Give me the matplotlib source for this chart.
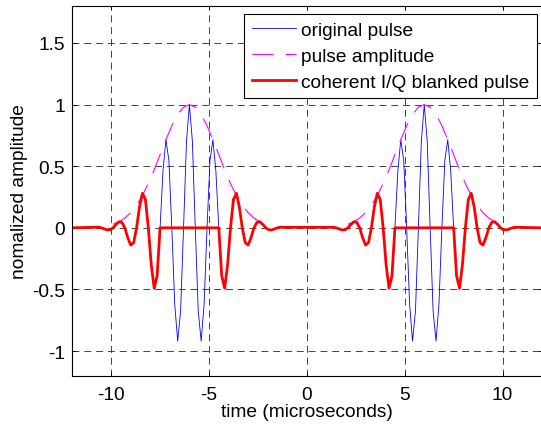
import matplotlib
matplotlib.use('Agg')
import matplotlib.pyplot as plt
import numpy as np

plt.rcParams['font.family'] = ['Liberation Sans', 'DejaVu Sans']
plt.rcParams['lines.scale_dashes'] = False
plt.rcParams['axes.unicode_minus'] = False

# pulse centres (microseconds)
pulse_centers = [-6.0, 6.0]

# sample instants relative to each pulse centre, every 0.15 us
pulse_offsets = np.arange(-32, 33) * 0.15

# original pulse (same shape for both pulses)
pulse_values = [0.004, 0.005, 0.000, -0.009, -0.017, -0.016, 0.000, 0.027,
                0.049, 0.044, 0.000, -0.080, -0.140, -0.120, 0.000, 0.170,
                0.280, 0.230, 0.000, -0.300, -0.490, -0.390, 0.000, 0.463,
                0.715, 0.547, 0.000, -0.620, -0.920, -0.675, 0.000, 0.703,
                1.000,
                0.703, 0.000, -0.675, -0.920, -0.620, 0.000, 0.547, 0.715,
                0.463, 0.000, -0.390, -0.490, -0.300, 0.000, 0.230, 0.280,
                0.170, 0.000, -0.120, -0.140, -0.080, 0.000, 0.044, 0.049,
                0.027, 0.000, -0.016, -0.017, -0.009, 0.000, 0.005, 0.004]

# same pulse with the centre blanked
blanked_values = [0.004, 0.005, 0.000, -0.009, -0.017, -0.016, 0.000, 0.027,
                  0.049, 0.044, 0.000, -0.080, -0.140, -0.120, 0.000, 0.170,
                  0.280, 0.230, 0.000, -0.300, -0.490, -0.390,
                  0, 0, 0, 0, 0, 0, 0, 0, 0, 0, 0, 0, 0, 0, 0, 0, 0, 0, 0, 0, 0,
                  -0.390, -0.490, -0.300, 0.000, 0.230, 0.280,
                  0.170, 0.000, -0.120, -0.140, -0.080, 0.000, 0.044, 0.049,
                  0.027, 0.000, -0.016, -0.017, -0.009, 0.000, 0.005, 0.004]

# pulse amplitude (envelope), every 0.3 us
env_offsets = np.arange(-13, 14) * 0.3
env_values = [0.029, 0.049, 0.079, 0.123, 0.184, 0.262, 0.359, 0.471, 0.593,
              0.715, 0.828, 0.920, 0.979, 1.000, 0.979, 0.920, 0.828, 0.715,
              0.593, 0.471, 0.359, 0.262, 0.184, 0.123, 0.079, 0.049, 0.029]

t_range = [-12, 12]

# build full traces over the time window
t = np.concatenate([[t_range[0]]] + [c + pulse_offsets for c in pulse_centers] + [[t_range[1]]])
orig = np.concatenate([[0]] + [pulse_values for c in pulse_centers] + [[0]])
blank = np.concatenate([[0]] + [blanked_values for c in pulse_centers] + [[0]])
te = np.concatenate([pulse_centers[0] + env_offsets, [np.nan], pulse_centers[1] + env_offsets])
env = np.concatenate([env_values, [np.nan], env_values])

fs = 13.8

fig = plt.figure(figsize=(5.41, 4.27), dpi=100)
ax = fig.add_axes([72/541, 50.3/427, 469.7/541, 369.7/427])

ax.plot(t, orig, color='b', lw=0.6, label='original pulse')
ax.plot(te, env, color='magenta', lw=0.8, dashes=(15, 9), label='pulse amplitude')
ax.plot(t, blank, color='r', lw=2, label='coherent I/Q blanked pulse')

ax.set_xlim(-12, 12)
ax.set_ylim(-1.2, 1.8)
ax.set_xticks([-10, -5, 0, 5, 10])
ax.set_xticklabels(['-10', '-5', '0', '5', '10'])
ax.set_yticks([-1, -0.5, 0, 0.5, 1, 1.5])
ax.set_yticklabels(['-1', '-0.5', '0', '0.5', '1', '1.5'])
ax.tick_params(direction='in', top=True, right=True, length=3, width=0.6,
               labelsize=fs)
ax.tick_params(axis='x', pad=7.5)
ax.tick_params(axis='y', pad=5)
ax.grid(True, color='0.15', lw=0.6, dashes=(5, 3.5))
for s in ax.spines.values():
    s.set_linewidth(0.8)

ax.set_xlabel('time (microseconds)', fontsize=fs, labelpad=0)
ax.set_ylabel('nomalized amplitude', fontsize=fs, labelpad=3)

leg = ax.legend(loc='upper right', bbox_to_anchor=(537/541, 1 - 15/427),
                bbox_transform=fig.transFigure, borderaxespad=0,
                fancybox=False, framealpha=1, edgecolor='k', fontsize=fs,
                handlelength=2.3, handletextpad=0.3, labelspacing=0.45,
                borderpad=0.38)
leg.get_frame().set_linewidth(0.8)

fig.savefig('out.png', dpi=100)
